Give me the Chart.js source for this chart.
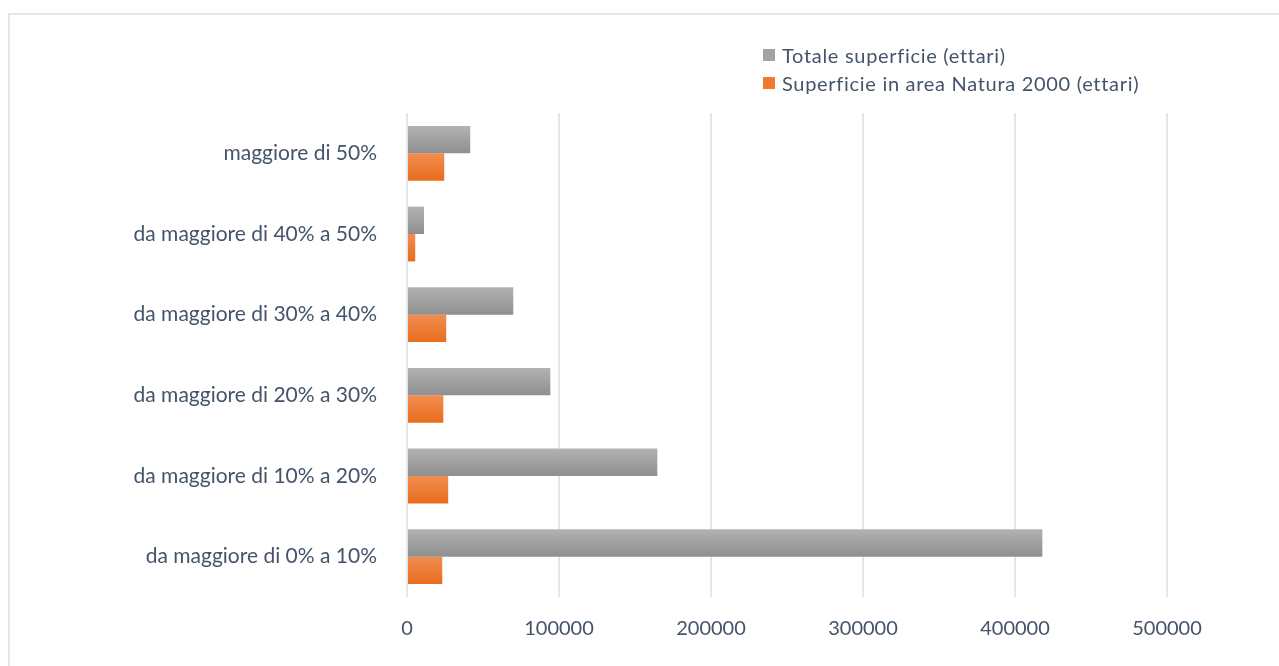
<!DOCTYPE html>
<html>
<head>
<meta charset="utf-8">
<script src="https://cdn.jsdelivr.net/npm/chart.js@4.4.1/dist/chart.umd.min.js"></script>
<style>
  html, body { margin: 0; padding: 0; background: #fff; }
  #wrap { position: relative; width: 1279px; height: 666px; overflow: hidden; }
  #frame { position: absolute; left: 8px; top: 13px; width: 1280px; height: 660px; border: 2px solid #e3e6eb; box-sizing: border-box; }
  #myChart { position: absolute; left: 0; top: 0; }
  #legend { position: absolute; left: 763px; top: 41px; font-family: Lato, sans-serif; font-size: 20px; letter-spacing: 0.7px; color: #44546a; }
  #legend .item { display: flex; align-items: center; height: 28px; }
  #legend .box { width: 12px; height: 12px; margin-right: 7px; }
</style>
</head>
<body>
<div id="wrap">
  <div id="frame"></div>
  <canvas id="myChart" width="1279" height="666"></canvas>
  <div id="legend"></div>
</div>
<script>
// categories, top to bottom
let categories = ['maggiore di 50%', 'da maggiore di 40% a 50%', 'da maggiore di 30% a 40%',
                  'da maggiore di 20% a 30%', 'da maggiore di 10% a 20%', 'da maggiore di 0% a 10%'];
// ettari
let totale = [41600, 11200, 69900, 94300, 164700, 418000];
let natura = [24500, 5400, 25800, 23900, 27100, 23200];
let xTicks = [0, 100000, 200000, 300000, 400000, 500000];

let textColor = '#44546a';
let catPct = 0.68;

// vertical gradient for each bar, top lighter
function barGradient(top, bottom) {
  return function(context) {
    let chart = context.chart;
    let y = chart.scales.y;
    if (!chart.chartArea || !y || context.dataIndex === undefined) return bottom;
    let band = (y.bottom - y.top) / categories.length;
    let group = band * catPct;
    let thick = group / 2;
    let center = y.getPixelForValue(context.dataIndex);
    let y0 = center - group / 2 + context.datasetIndex * thick;
    let g = chart.ctx.createLinearGradient(0, y0, 0, y0 + thick);
    g.addColorStop(0, top);
    g.addColorStop(1, bottom);
    return g;
  };
}

function renderChart() {
  let ctx = document.getElementById('myChart');
  let chart = new Chart(ctx, {
    type: 'bar',
    data: {
      labels: categories,
      datasets: [
        { label: 'Totale superficie (ettari)', data: totale, legendColor: '#a3a3a3',
          backgroundColor: barGradient('#b2b2b2', '#8f8f8f') },
        { label: 'Superficie in area Natura 2000 (ettari)', data: natura, legendColor: '#f07a30',
          backgroundColor: barGradient('#f28d52', '#e86d1c') }
      ]
    },
    options: {
      indexAxis: 'y',
      responsive: false,
      animation: false,
      layout: { padding: { left: 0, top: 113, right: 36, bottom: 19 } },
      datasets: { bar: { categoryPercentage: catPct, barPercentage: 1.0 } },
      plugins: { legend: { display: false }, tooltip: { enabled: false } },
      scales: {
        x: {
          min: 0, max: 550000,
          afterBuildTicks: function(scale) {
            scale.ticks = xTicks.map(v => ({ value: v }));
          },
          afterFit: function(scale) { scale.height = 50; },
          grid: { color: '#e2e6ed', lineWidth: 2, drawTicks: false },
          border: { display: false },
          ticks: { color: textColor, font: { family: 'Lato', size: 20 }, padding: 20,
                   callback: v => String(v) }
        },
        y: {
          afterFit: function(scale) { scale.width = 407; },
          grid: { display: false },
          border: { display: false },
          ticks: { color: textColor, font: { family: 'Lato', size: 21 }, padding: 22 }
        }
      }
    }
  });

  let legend = document.getElementById('legend');
  chart.data.datasets.forEach(ds => {
    let item = document.createElement('div');
    item.className = 'item';
    item.innerHTML = '<span class="box" style="background:' + ds.legendColor + '"></span><span>' + ds.label + '</span>';
    legend.appendChild(item);
  });
}

renderChart();
</script>
</body>
</html>
